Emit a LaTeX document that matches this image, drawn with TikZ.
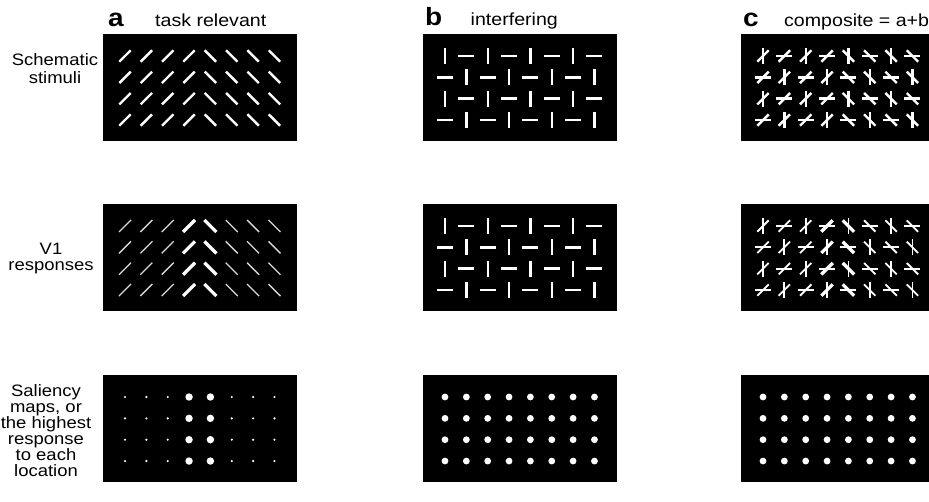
\documentclass[tikz,border=0pt]{standalone}
\usepackage{fontspec}
\setmainfont{Liberation Sans}[FakeStretch=1.12]
\usetikzlibrary{positioning}
\tikzset{
  panel/.style={rectangle, fill=black, inner sep=0pt, minimum width=194pt,
                minimum height=107pt, anchor=north west},
  bar/.style={white, line width=2.4pt},
  weakbar/.style={white!85!black, line width=1.3pt},
  midbar/.style={white, line width=1.8pt},
  strongbar/.style={white, line width=3.3pt},
  spot/.style={white},
  rowlabel/.style={align=center, inner sep=0pt, anchor=north},
  header/.style={inner sep=0pt, font=\fontsize{17.5}{18}\selectfont},
  letter/.style={inner sep=0pt, anchor=base west,
                 font=\fontsize{25}{25}\selectfont\bfseries}
}

\begin{document}
\begin{tikzpicture}[x=1pt, y=-1pt]
  \useasboundingbox (0,0) rectangle (929,502);

  % column headers
  \node[letter] (la) at (108,27) {a};
  \node[header, base right=31pt of la] (ta) {task relevant};
  \node[letter] (lb) at (425,26) {b};
  \node[header, base right=28pt of lb] (tb) {interfering};
  \node[letter] (lc) at (743,27) {c};
  \node[header, base right=25pt of lc] (tc) {composite = a+b};

  % row labels
  \node[rowlabel, font=\fontsize{16.5}{18}\selectfont] (lstim) at (55,53)
    {Schematic\\stimuli};
  \node[rowlabel, font=\fontsize{16.5}{16}\selectfont] (lresp) at (51,243)
    {V1\\responses};
  \node[rowlabel, font=\fontsize{16.5}{16}\selectfont] (lsal) at (46,384)
    {Saliency\\maps, or\\the highest\\response\\to each\\location};

  % panels
  \node[panel] (stimA) at (103,34) {};
  \node[panel] (stimB) at (423,34) {};
  \node[panel, minimum width=188pt] (stimC) at (741,34) {};
  \node[panel] (respA) at (103,204) {};
  \node[panel] (respB) at (423,204) {};
  \node[panel, minimum width=188pt] (respC) at (741,204) {};
  \node[panel] (salA) at (103,375) {};
  \node[panel] (salB) at (423,375) {};
  \node[panel, minimum width=188pt] (salC) at (741,375) {};

  % a: task relevant bars
  \begin{scope}[shift={(stimA.north west)}]
    \foreach \c in {0,...,7} \foreach \r in {0,...,3} {
      \pgfmathsetmacro\px{22+21.35*\c}
      \pgfmathsetmacro\py{22+21.35*\r}
      \ifnum\c<4 \draw[bar] (\px-5.7,\py+5.7) -- (\px+5.7,\py-5.7);
      \else \draw[bar] (\px-5.7,\py-5.7) -- (\px+5.7,\py+5.7); \fi
    }
  \end{scope}
  \begin{scope}[shift={(respA.north west)}]
    \foreach \c in {0,...,7} \foreach \r in {0,...,3} {
      \pgfmathsetmacro\px{22+21.35*\c}
      \pgfmathsetmacro\py{22+21.35*\r}
      \ifnum\c=3 \def\bst{strongbar}\else\ifnum\c=4 \def\bst{strongbar}%
        \else \def\bst{weakbar}\fi\fi
      \ifnum\c<4 \draw[\bst] (\px-6,\py+6) -- (\px+6,\py-6);
      \else \draw[\bst] (\px-6,\py-6) -- (\px+6,\py+6); \fi
    }
  \end{scope}
  \begin{scope}[shift={(salA.north west)}]
    \foreach \c in {0,...,7} \foreach \r in {0,...,3} {
      \pgfmathsetmacro\px{22+21.35*\c}
      \pgfmathsetmacro\py{22+21.35*\r}
      \ifnum\c=3 \def\rad{3.7pt}\else\ifnum\c=4 \def\rad{3.7pt}%
        \else \def\rad{1.2pt}\fi\fi
      \fill[spot] (\px,\py) circle[radius=\rad];
    }
  \end{scope}

  % b: interfering bars
  \foreach \p in {stimB,respB} {
    \begin{scope}[shift={(\p.north west)}]
      \foreach \c in {0,...,7} \foreach \r in {0,...,3} {
        \pgfmathsetmacro\px{22+21.35*\c}
        \pgfmathsetmacro\py{22+21.35*\r}
        \pgfmathtruncatemacro\odd{mod(\c+\r,2)}
        \ifnum\odd=0 \draw[bar] (\px,\py-8) -- (\px,\py+8);
        \else \draw[bar] (\px-8,\py) -- (\px+8,\py); \fi
      }
    \end{scope}
  }

  % c: composite
  \begin{scope}[shift={(stimC.north west)}]
    \foreach \c in {0,...,7} \foreach \r in {0,...,3} {
      \pgfmathsetmacro\px{22+21.35*\c}
      \pgfmathsetmacro\py{22+21.35*\r}
      \pgfmathtruncatemacro\odd{mod(\c+\r,2)}
      \ifnum\odd=0 \draw[bar] (\px,\py-8) -- (\px,\py+8);
      \else \draw[bar] (\px-8,\py) -- (\px+8,\py); \fi
      \ifnum\c<4 \draw[bar] (\px-5.7,\py+5.7) -- (\px+5.7,\py-5.7);
      \else \draw[bar] (\px-5.7,\py-5.7) -- (\px+5.7,\py+5.7); \fi
    }
  \end{scope}
  \begin{scope}[shift={(respC.north west)}]
    \foreach \c in {0,...,7} \foreach \r in {0,...,3} {
      \pgfmathsetmacro\px{22+21.35*\c}
      \pgfmathsetmacro\py{22+21.35*\r}
      \pgfmathtruncatemacro\odd{mod(\c+\r,2)}
      \ifnum\c=3 \def\bst{strongbar}\else\ifnum\c=4 \def\bst{strongbar}%
        \else \def\bst{midbar}\fi\fi
      \ifnum\odd=0 \draw[midbar] (\px,\py-8) -- (\px,\py+8);
      \else \draw[midbar] (\px-8,\py) -- (\px+8,\py); \fi
      \ifnum\c<4 \draw[\bst] (\px-5.7,\py+5.7) -- (\px+5.7,\py-5.7);
      \else \draw[\bst] (\px-5.7,\py-5.7) -- (\px+5.7,\py+5.7); \fi
    }
  \end{scope}

  % uniform saliency for b and c
  \foreach \p in {salB,salC} {
    \begin{scope}[shift={(\p.north west)}]
      \foreach \c in {0,...,7} \foreach \r in {0,...,3}
        \fill[spot] (22+21.35*\c,22+21.35*\r) circle[radius=3.4pt];
    \end{scope}
  }
\end{tikzpicture}
\end{document}
